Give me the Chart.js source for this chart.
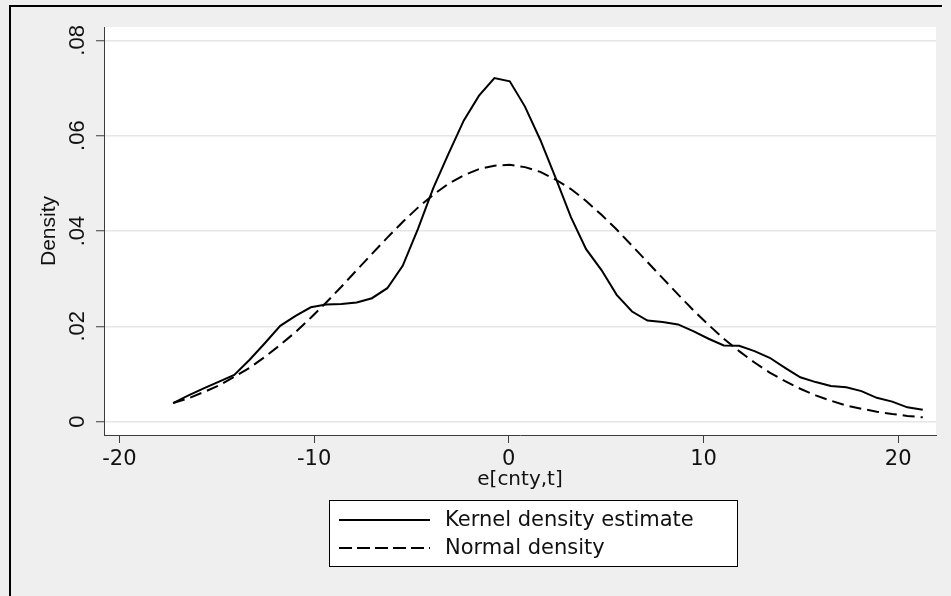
<!DOCTYPE html>
<html><head><meta charset="utf-8">
<script src="https://cdn.jsdelivr.net/npm/chart.js@4.4.1/dist/chart.umd.min.js"></script>
<style>html,body{margin:0;padding:0;background:#efefef;}#wrap{width:951px;height:596px;position:relative;}canvas{display:block;}</style>
</head><body><div id="wrap"><canvas id="c" width="951" height="596"></canvas></div>
<script>
// ---- data ----
const xValues = [-17.24,-16.45,-15.67,-14.88,-14.10,-13.31,-12.52,-11.74,-10.95,-10.17,
  -9.38,-8.60,-7.81,-7.03,-6.24,-5.45,-4.67,-3.88,-3.10,-2.31,
  -1.53,-0.74,0.05,0.83,1.62,2.40,3.19,3.97,4.76,5.54,
  6.33,7.12,7.90,8.69,9.47,10.26,11.04,11.83,12.62,13.40,
  14.19,14.97,15.76,16.54,17.33,18.11,18.90,19.69,20.47,21.26];
const kernelDensity = [0.0039,0.0055,0.0070,0.0084,0.0098,0.0130,0.0165,0.0201,0.0222,0.0240,
  0.0246,0.0247,0.0250,0.0259,0.0280,0.0327,0.0404,0.0490,0.0562,0.0632,
  0.0684,0.0721,0.0714,0.0661,0.0591,0.0512,0.0429,0.0362,0.0318,0.0266,
  0.0231,0.0212,0.0209,0.0204,0.0190,0.0174,0.0160,0.0159,0.0148,0.0134,
  0.0113,0.0093,0.0083,0.0075,0.0072,0.0064,0.0050,0.0042,0.0030,0.0025];
const normalDensity = [0.0039,0.0049,0.0062,0.0076,0.0094,0.0113,0.0136,0.0161,0.0188,0.0218,
  0.0250,0.0283,0.0318,0.0352,0.0386,0.0419,0.0449,0.0476,0.0499,0.0517,
  0.0530,0.0537,0.0539,0.0534,0.0524,0.0508,0.0488,0.0463,0.0434,0.0403,
  0.0369,0.0335,0.0301,0.0267,0.0234,0.0203,0.0174,0.0148,0.0124,0.0103,
  0.0085,0.0069,0.0055,0.0044,0.0034,0.0027,0.0021,0.0016,0.0012,0.0009];
const xTicks = [-20,-10,0,10,20];
const xTickLabels = ['-20','-10','0','10','20'];
const yTicks = [0,0.02,0.04,0.06,0.08];
const yTickLabels = ['0','.02','.04','.06','.08'];
const seriesLabels = ['Kernel density estimate','Normal density'];
const xTitle = 'e[cnty,t]';
const yTitle = 'Density';

const AXIS = '#3c3c3c';
const TEXT = '#111111';
const HFONT = '"DejaVu Sans", sans-serif';
const VFONT = '"Liberation Sans", Arial, sans-serif';

const frame = {
  id: 'frame',
  beforeDraw(chart) {
    const {ctx, chartArea: a} = chart;
    ctx.save();
    ctx.fillStyle = '#efefef';
    ctx.fillRect(0, 0, chart.width, chart.height);
    ctx.fillStyle = '#ffffff';
    ctx.fillRect(a.left, a.top, a.right - a.left, a.bottom - a.top);
    ctx.strokeStyle = '#000';
    ctx.lineWidth = 2;
    ctx.beginPath();
    ctx.moveTo(10, 596); ctx.lineTo(10, 6); ctx.lineTo(942, 6);
    ctx.stroke();
    ctx.restore();
  },
  afterDraw(chart) {
    const ctx = chart.ctx;
    ctx.save();
    ctx.fillStyle = '#ffffff';
    ctx.fillRect(329.5, 500.5, 408, 66);
    ctx.strokeStyle = '#000';
    ctx.lineWidth = 1;
    ctx.strokeRect(329.5, 500.5, 408, 66);
    const rows = [520, 548];
    const base = [526, 554];
    chart.data.datasets.forEach((ds, i) => {
      ctx.strokeStyle = ds.borderColor;
      ctx.lineWidth = ds.borderWidth;
      ctx.setLineDash(ds.borderDash ? [13, 5] : []);
      ctx.beginPath();
      ctx.moveTo(339, rows[i]); ctx.lineTo(430, rows[i]);
      ctx.stroke();
      ctx.setLineDash([]);
      ctx.fillStyle = TEXT;
      ctx.font = '21px ' + HFONT;
      ctx.textAlign = 'left';
      ctx.textBaseline = 'alphabetic';
      ctx.fillText(ds.label, 445, base[i]);
    });
    ctx.restore();
  }
};

new Chart(document.getElementById('c'), {
  type: 'line',
  data: {
    datasets: [
      { label: seriesLabels[0], data: xValues.map((x, i) => ({x, y: kernelDensity[i]})),
        borderColor: '#000', borderWidth: 2, pointRadius: 0, tension: 0, fill: false },
      { label: seriesLabels[1], data: xValues.map((x, i) => ({x, y: normalDensity[i]})),
        borderColor: '#000', borderWidth: 2, borderDash: [12, 6], pointRadius: 0, tension: 0, fill: false }
    ]
  },
  options: {
    responsive: false,
    animation: false,
    devicePixelRatio: 1,
    layout: { padding: { left: 0, top: 27, right: 15, bottom: 101 } },
    plugins: { legend: { display: false }, tooltip: { enabled: false } },
    scales: {
      x: {
        type: 'linear', min: -20.79, max: 21.94,
        afterBuildTicks: s => { s.ticks = xTicks.map(v => ({value: v})); },
        afterFit: s => { s.height = 60; },
        ticks: { callback: (v) => xTickLabels[xTicks.indexOf(v)], color: TEXT,
          font: { family: HFONT, size: 21 }, padding: 4, maxRotation: 0, minRotation: 0 },
        grid: { drawOnChartArea: false, drawTicks: true, tickLength: 8, tickColor: AXIS, tickWidth: 1 },
        border: { display: true, color: AXIS, width: 1 },
        title: { display: true, text: xTitle, color: TEXT, font: { family: HFONT, size: 20 },
          padding: { top: 0, bottom: 3 } }
      },
      y: {
        type: 'linear', min: -0.0028, max: 0.0828,
        afterBuildTicks: s => { s.ticks = yTicks.map(v => ({value: v})); },
        afterFit: s => { s.width = 104; },
        ticks: { callback: (v) => yTickLabels[yTicks.indexOf(v)], color: TEXT,
          font: { family: VFONT, size: 22 }, padding: 3, minRotation: 90, maxRotation: 90, crossAlign: 'center' },
        grid: { drawOnChartArea: true, color: '#e6e6e6', lineWidth: 1.5, drawTicks: true, tickLength: 8, tickColor: AXIS, tickWidth: 1 },
        border: { display: true, color: AXIS, width: 1 },
        title: { display: true, text: yTitle, color: TEXT, font: { family: VFONT, size: 21 },
          padding: { top: 37, bottom: 0 } }
      }
    }
  },
  plugins: [frame]
});
</script>
</body></html>
